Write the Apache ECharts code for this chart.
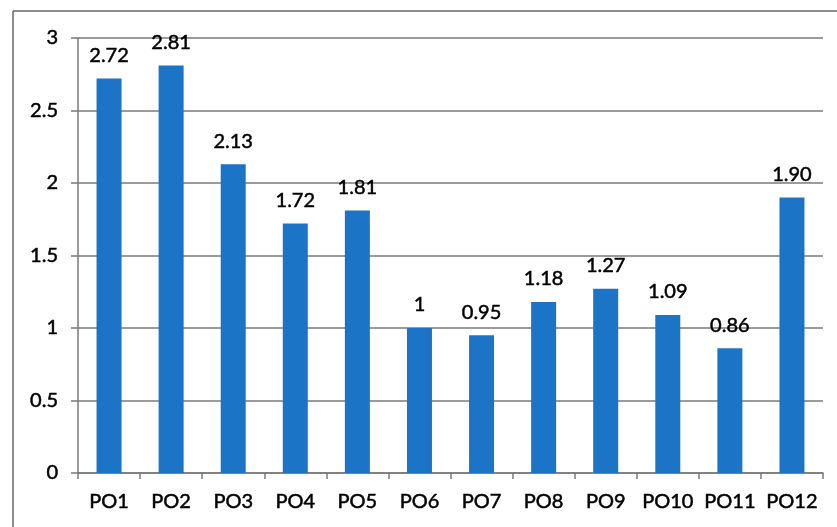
<!DOCTYPE html>
<html>
<head>
<meta charset="utf-8">
<script src="https://cdn.jsdelivr.net/npm/echarts@6/dist/echarts.min.js"></script>
<style>html,body{margin:0;padding:0;background:#fff}#c{width:837px;height:527px}</style>
</head>
<body>
<div id="c"></div>
<script>
var categories = ['PO1','PO2','PO3','PO4','PO5','PO6','PO7','PO8','PO9','PO10','PO11','PO12'];
var values = [2.72, 2.81, 2.13, 1.72, 1.81, 1, 0.95, 1.18, 1.27, 1.09, 0.86, 1.90];
var valueLabels = ['2.72','2.81','2.13','1.72','1.81','1','0.95','1.18','1.27','1.09','0.86','1.90'];
var yTicks = [0, 0.5, 1, 1.5, 2, 2.5, 3];

var font = 'Lato, "Open Sans", sans-serif';
var textStyle = { color: '#000', fontSize: 20, fontFamily: font, textBorderColor: '#000', textBorderWidth: 0.5 };
var chart = echarts.init(document.getElementById('c'));
chart.setOption({
  animation: false,
  backgroundColor: '#fff',
  graphic: [
    { type: 'line', shape: { x1: 13, y1: 11, x2: 837, y2: 11 }, style: { stroke: '#666', lineWidth: 1.5 } },
    { type: 'line', shape: { x1: 13, y1: 11, x2: 13, y2: 527 }, style: { stroke: '#666', lineWidth: 1.5 } }
  ],
  grid: { left: 78, right: 14, top: 38, bottom: 54 },
  xAxis: {
    type: 'category',
    data: categories,
    axisLine: { lineStyle: { color: '#7a7a7a', width: 1.5 } },
    axisTick: { show: true, length: 6, lineStyle: { color: '#7a7a7a', width: 1.5 } },
    axisLabel: Object.assign({ margin: 19, interval: 0 }, textStyle)
  },
  yAxis: {
    type: 'value',
    min: yTicks[0],
    max: yTicks[yTicks.length - 1],
    interval: 0.5,
    axisLine: { show: true, lineStyle: { color: '#7a7a7a', width: 1.5 } },
    axisTick: { show: true, length: 7, lineStyle: { color: '#7a7a7a', width: 1.5 } },
    axisLabel: Object.assign({ margin: 20 }, textStyle),
    splitLine: { show: true, lineStyle: { color: '#7a7a7a', width: 1.5 } }
  },
  series: [{
    type: 'bar',
    data: values,
    barWidth: 25,
    itemStyle: { color: '#1b74c5' },
    label: Object.assign({
      show: true,
      position: 'top',
      distance: 13,
      formatter: function (p) { return valueLabels[p.dataIndex]; }
    }, textStyle)
  }]
});
</script>
</body>
</html>
